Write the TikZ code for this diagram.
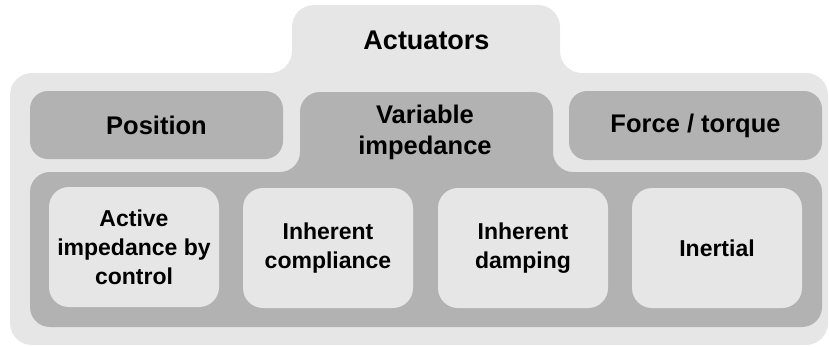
\documentclass[tikz,border=0pt]{standalone}
\usepackage{fontspec}
\setmainfont{Liberation Sans}
\definecolor{lightg}{HTML}{E6E6E6}
\definecolor{midg}{HTML}{B2B2B2}
\begin{document}
\begin{tikzpicture}[x=1pt,y=-1pt,
  bigfont/.style={font=\fontsize{27}{32}\selectfont\bfseries},
  midfont/.style={font=\fontsize{25.5}{31}\selectfont\bfseries},
  smallfont/.style={font=\fontsize{23}{29}\selectfont\bfseries},
  midbox/.style={midfont, fill=midg, rounded corners=18pt, minimum width=253pt, minimum height=68pt, inner sep=0pt},
  innerbox/.style={smallfont, fill=lightg, rounded corners=20pt, minimum width=170pt, minimum height=120pt, inner sep=0pt, align=center}]
\useasboundingbox (0,0) rectangle (829,346);
% outer light shape
\fill[lightg, rounded corners=22pt] (420,345) -- (10,345) -- (10,73) -- (292,73) -- (292,5) -- (560,5) -- (560,73) -- (828,73) -- (828,345) -- cycle;
% variable impedance + lower container
\fill[midg, rounded corners=20pt] (420,327) -- (30,327) -- (30,172) -- (300,172) -- (300,92) -- (553,92) -- (553,172) -- (822,172) -- (822,327) -- cycle;
% text nodes
\node[bigfont, anchor=base, inner sep=0pt] (act) at (426.5,49) {Actuators};
\node[midbox] (pos) at (156.5,125) {Position};
\node[midbox, minimum height=69pt] (force) at (695.5,125.5) {Force / torque};
\node[midfont, align=center, inner sep=0pt] (vi) at (425,132) {Variable\\impedance};
\node[innerbox] (aic) at (134,247) {Active\\impedance by\\control};
\node[innerbox] (ic) at (328,248) {Inherent\\compliance};
\node[innerbox] (id) at (523,248) {Inherent\\damping};
\node[innerbox] (in) at (717,248) {Inertial};
\end{tikzpicture}
\end{document}
